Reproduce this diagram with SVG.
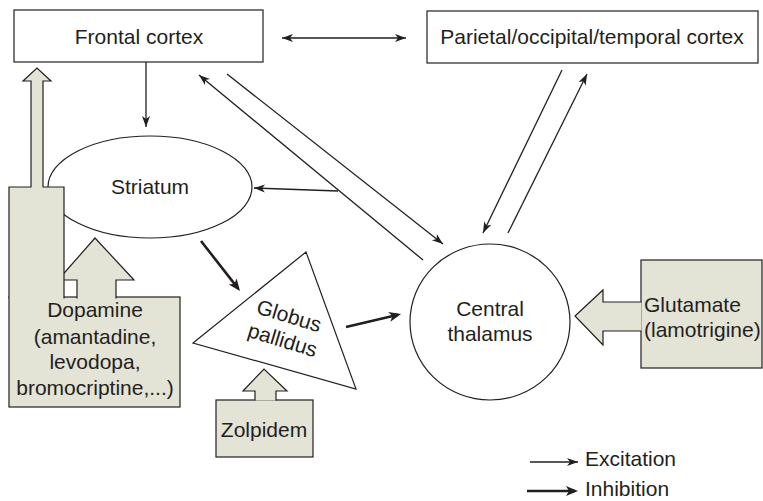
<svg xmlns="http://www.w3.org/2000/svg" width="763" height="501" viewBox="0 0 763 501">
<defs>
<marker id="ah" markerUnits="userSpaceOnUse" markerWidth="12" markerHeight="10" refX="11" refY="4" orient="auto-start-reverse" overflow="visible">
<path d="M0,0 L11,4 L0,8 L3,4 z" fill="#231f20"/>
</marker>
<marker id="ahb" markerUnits="userSpaceOnUse" markerWidth="13" markerHeight="11" refX="9" refY="5" orient="auto" overflow="visible">
<path d="M0,0 L12,5 L0,10 L3,5 z" fill="#231f20"/>
</marker>
<style>
.box{fill:#fff;stroke:#231f20;stroke-width:1.2}
.drug{fill:#e3e3d6;stroke:#231f20;stroke-width:1.2}
.t{font-family:"Liberation Sans",Arial,sans-serif;font-size:21px;fill:#231f20}
.m{text-anchor:middle}
.thin{stroke:#231f20;stroke-width:1.3;fill:none;marker-end:url(#ah)}
.thick{stroke:#231f20;stroke-width:2.6;fill:none;marker-end:url(#ahb)}
</style>
</defs>
<rect width="763" height="501" fill="#fff"/>

<g id="frontal-cortex">
<rect class="box" x="14" y="10" width="249" height="52"/>
<text class="t m" x="139" y="44">Frontal cortex</text>
</g>
<g id="parietal-cortex">
<rect class="box" x="427" y="11" width="331" height="52"/>
<text class="t m" x="592" y="44">Parietal/occipital/temporal cortex</text>
</g>
<g id="striatum">
<ellipse class="box" cx="150" cy="187" rx="102" ry="51"/>
<text class="t m" x="150" y="194">Striatum</text>
</g>
<g id="globus-pallidus">
<polygon class="box" points="306,252 193,343 356,389"/>
<g transform="translate(289,316) rotate(17)">
<text class="t m" x="0" y="7">Globus</text>
<text class="t m" x="1" y="32">pallidus</text>
</g>
</g>
<g id="central-thalamus">
<ellipse class="box" cx="490" cy="322" rx="80" ry="78"/>
<text class="t m" x="490" y="316">Central</text>
<text class="t m" x="490" y="341">thalamus</text>
</g>

<g id="dopamine">
<rect class="drug" x="9" y="297" width="171" height="110"/>
<path class="drug" d="M77,298.5 V280 H58 L95,238 L134,280 H116 V298.5"/>
<path class="drug" d="M9,298.5 V187 H31 V81 H23 L37,68 L51,81 H43 V187 H64 V298.5"/>
<text class="t m" x="95" y="317">Dopamine</text>
<text class="t m" x="95" y="344">(amantadine,</text>
<text class="t m" x="95" y="369">levodopa,</text>
<text class="t m" x="95" y="395">bromocriptine,...)</text>
</g>
<g id="zolpidem">
<rect class="drug" x="216" y="400" width="97" height="57"/>
<path class="drug" d="M255,400.5 V391 H243 L264,369 L287,391 H276 V400.5"/>
<text class="t m" x="264" y="437">Zolpidem</text>
</g>
<g id="glutamate">
<rect class="drug" x="641" y="260" width="121" height="108"/>
<path class="drug" d="M641.5,302 H603 V290 L575,316 L603,345 V331 H641.5"/>
<text class="t" x="644" y="312">Glutamate</text>
<text class="t" x="644" y="337">(lamotrigine)</text>
</g>

<g id="connectors">
<line class="thin" x1="282" y1="38" x2="406" y2="38" marker-start="url(#ah)"/>
<line class="thin" x1="146" y1="62" x2="146" y2="127"/>
<line class="thin" x1="227" y1="74" x2="443" y2="244"/>
<line class="thin" x1="423" y1="260" x2="199" y2="75"/>
<line class="thin" x1="338" y1="191" x2="254" y2="188"/>
<line class="thin" x1="562" y1="70" x2="483" y2="233"/>
<line class="thin" x1="508" y1="233" x2="587" y2="74"/>
<line class="thick" x1="201" y1="241" x2="238.2" y2="288.6"/>
<line class="thick" x1="346" y1="327" x2="398.1" y2="314.7"/>
</g>

<g id="legend">
<line class="thin" x1="530" y1="462" x2="578" y2="462"/>
<text class="t" x="585" y="466">Excitation</text>
<line class="thick" x1="527" y1="491" x2="575" y2="491"/>
<text class="t" x="585" y="496">Inhibition</text>
</g>
</svg>
